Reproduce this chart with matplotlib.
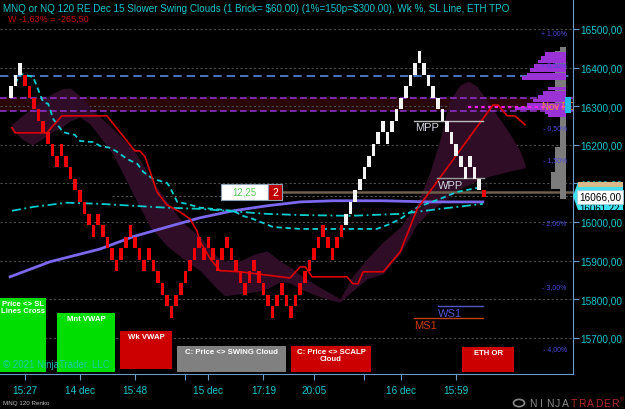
import matplotlib
matplotlib.use('Agg')
import matplotlib.pyplot as plt
from matplotlib.patches import Rectangle, Polygon, Circle

plt.rcParams['font.family'] = ['Liberation Sans', 'DejaVu Sans']

W, H = 625, 410
CYAN = '#12c6cc'
RED = '#cc0000'

title = r"MNQ or NQ 120 RE Dec 15 Slower Swing Clouds (1 Brick= \$60.00) (1%=150p=\$300.00), Wk %, SL Line, ETH TPO"
subtitle = "W -1,63% = -265,50"

# renko bricks (30 pt each): low of every brick and its colour
brick_size = 30
brick_lows = [16322, 16352, 16382, 16352, 16322, 16292, 16262, 16232, 16202, 16172, 16142,
              16172, 16142, 16112, 16082, 16052, 16022, 15992, 15962, 15992, 15962, 15932,
              15902, 15872, 15902, 15932, 15962, 15932, 15902, 15872, 15902, 15872, 15842,
              15812, 15782, 15752, 15782, 15812, 15842, 15872, 15902, 15932, 15902, 15932,
              15902, 15872, 15902, 15932, 15902, 15872, 15842, 15812, 15842, 15872, 15842,
              15812, 15782, 15752, 15782, 15812, 15782, 15752, 15782, 15812, 15842, 15872,
              15902, 15932, 15962, 15932, 15902, 15932, 15962,
              15992, 16022, 16052, 16082, 16112, 16142, 16172, 16202, 16232, 16202, 16232,
              16262, 16292, 16322, 16352, 16382, 16412, 16382, 16352, 16322, 16292, 16262,
              16232, 16202, 16172, 16142, 16112, 16142, 16112, 16082]
brick_colors = ['white'] * 3 + ['red'] * 70 + ['white'] * 30
last_open, last_close = 16082, 16066

# date axis
tick_pos = [3, 15, 27, 38, 43, 55, 66, 77, 85, 97]
tick_lbl = ['15:27', '14 dec', '15:48', '', '15 dec', '17:19', '20:05', '', '16 dec', '15:59']
price_ticks = [15700, 15800, 15900, 16000, 16100, 16200, 16300, 16400, 16500]

# SL line (red)
sl_x = [0.2, 0.9, 7.8, 11.1, 20.9, 27.0, 28.1, 29.2, 31.8, 34.0, 36.8, 39.0, 40.5, 41.2,
        43.4, 45.5, 49.9, 60.8, 63.0, 64.1, 65.6, 73.2, 74.5, 75.6, 76.7, 81.1, 84.8,
        88.5, 105.0, 106.1, 108.1, 109.8, 112.0]
sl_y = [16244, 16231, 16231, 16275, 16275, 16184, 16184, 16169, 16078, 16044, 16026, 16008,
        15977, 15949, 15905, 15874, 15871, 15855, 15884, 15884, 15858, 15858, 15840, 15840,
        15871, 15871, 15923, 16034, 16303, 16303, 16275, 16275, 16252]

# fast cyan (dashed)
fast_x = [0.9, 2.0, 4.8, 7.0, 8.1, 9.2, 11.3, 12.9, 13.9, 15.0, 17.9, 19.4, 21.6, 23.1, 25.3,
          27.5, 28.8, 30.9, 34.0, 34.6, 36.2, 38.3, 41.2, 48.4, 50.5, 52.7, 57.1, 63.0, 70.2,
          79.7, 82.6, 84.8, 88.7, 93.5, 97.2, 102.8]
fast_y = [16358, 16384, 16376, 16311, 16306, 16267, 16233, 16228, 16226, 16210, 16207, 16197,
          16192, 16182, 16163, 16151, 16130, 16112, 16101, 16091, 16052, 16047, 16037, 16029,
          16016, 16008, 15987, 15982, 15982, 15982, 15995, 16008, 16039, 16060, 16078, 16091]

# slow cyan (dash-dot)
slow_x = [0.2, 4.8, 12.2, 19.4, 26.6, 34.0, 41.2, 55.8, 63.0, 73.9, 84.8, 93.5, 102.8]
slow_y = [16029, 16039, 16050, 16047, 16042, 16037, 16034, 16021, 16018, 16016, 16021, 16034, 16047]

# slow purple average
ma_x = [-0.2, 8.5, 19.4, 26.6, 34.0, 41.2, 48.4, 55.8, 63.0, 70.2, 81.1, 91.3, 102.8]
ma_y = [15858, 15897, 15930, 15962, 15987, 16011, 16029, 16042, 16052, 16055, 16055, 16052, 16052]

# swing cloud
cloud_x = [0.2, 2.4, 4.6, 6.8, 8.9, 11.1, 12.9, 15.0, 17.2, 19.4, 22.2, 26.6, 30.3, 34.0,
           37.5, 41.2, 44.9, 46.6, 49.9, 53.2, 55.8, 58.6, 60.8, 63.0, 66.7, 70.2, 71.7,
           74.5, 77.6, 81.1, 84.8, 88.5, 91.3, 93.5, 95.6, 97.8, 99.6, 101.5, 103.7, 106.5,
           108.7, 110.9, 112.0]
cloud_hi = [16254, 16275, 16296, 16316, 16332, 16345, 16347, 16327, 16298, 16272, 16241, 16189,
            16117, 16052, 15998, 15962, 15910, 15899, 15899, 15918, 15925, 15899, 15884, 15863,
            15835, 15811, 15801, 15861, 15905, 15949, 15987, 16047, 16130, 16215, 16314, 16355,
            16365, 16352, 16314, 16267, 16228, 16184, 16148]
cloud_lo = [16241, 16215, 16200, 16215, 16233, 16246, 16262, 16272, 16254, 16220, 16176, 16073,
            15987, 15938, 15905, 15874, 15827, 15809, 15814, 15819, 15827, 15845, 15842, 15827,
            15809, 15796, 15793, 15822, 15853, 15866, 15918, 15995, 16029, 16047, 16065, 16086,
            16096, 16107, 16117, 16125, 16132, 16138, 16140]

# pivots / levels
mpp, wpp, ws1, ms1 = 16262, 16114, 15783, 15752
band_lo, band_hi = 16288, 16321
blue_level = 16377
nov_poc = 16298
entry_price = 16078
last_line = 16068

pct_lbl = ['+ 1,00%', '+ 0,50%', '- 0,50%', '- 1,50%', '- 2,00%', '- 3,00%', '- 4,00%']
pct_price = [16490, 16407, 16244, 16161, 15998, 15832, 15672]

# ETH TPO profile (right edge at bar 120.9), widths in bars
tpo_price = [16435, 16425, 16415, 16404, 16394, 16383, 16373,
             16345, 16334, 16324, 16314, 16303, 16294, 16285, 16275]
tpo_purple = [4.6, 5.4, 6.1, 7.0, 7.8, 8.5, 9.6,
              3.9, 5.0, 6.1, 7.2, 8.5, 11.1, 4.6, 3.9]
gray_lo = [16060, 16272, 16086, 16086, 16422]
gray_hi = [16453, 16443, 16195, 16130, 16440]
gray_w = [1.3, 2.4, 2.4, 3.3, 4.1]

alerts = [
    ('Price <> SL\nLines Cross', 0, 299, 46, 373, '#00dd00'),
    ('Mnt VWAP', 57, 314, 115, 373, '#00dd00'),
    ('Wk VWAP', 120, 332, 172, 370, '#cc0000'),
    ('C: Price <> SWING Cloud', 177, 347, 286, 373, '#808080'),
    ('C: Price <> SCALP\nCloud', 291, 347, 371, 373, '#cc0000'),
    ('ETH OR', 462, 348, 514, 373, '#cc0000'),
]


def fx(x):
    return x / W


def fy(y):
    return 1 - y / H


fig = plt.figure(figsize=(W / 100, H / 100), dpi=100, facecolor='black')
ax = fig.add_axes([0, 1 - 375 / H, 573 / W, 375 / H], facecolor='black')
ax.set_xlim(-2.4, 122.44)
ax.set_ylim(15606.2, 16577.7)

# background band + levels
ax.axhspan(band_lo, band_hi, color='#2a0707', lw=0, zorder=0.3)
for p in price_ticks:
    ax.axhline(p, color='#4d4d4d', lw=0.8, ls=(0, (2, 2)), zorder=0.5)
ax.plot([22, 122.5], [last_line, last_line], color='#555555', lw=0.8, ls=(0, (2, 2)), zorder=0.5)

ax.fill_between(cloud_x, cloud_lo, cloud_hi, color='#300d27', lw=0, zorder=1)

ax.axhline(band_hi, color='#8e2fc8', lw=1.2, ls=(0, (4, 2)), zorder=2)
ax.axhline(band_lo, color='#8e2fc8', lw=1.2, ls=(0, (4, 2)), zorder=2)
ax.axhline(blue_level, color='#5a8ae0', lw=1.2, ls=(0, (5, 3)), zorder=2)
ax.plot([59, 122.5], [entry_price, entry_price], color='#6e604c', lw=1.8, zorder=2)

# TPO profile
ax.barh(gray_lo, gray_w, height=[h - l for l, h in zip(gray_lo, gray_hi)], left=[120.9 - w for w in gray_w],
        align='edge', color='#7c7c7c', lw=0, zorder=2)
ax.barh(tpo_price, tpo_purple, height=8.5, left=[120.9 - w for w in tpo_purple],
        color='#9a32d6', lw=0, zorder=2.2)
ax.plot([99.6, 122.5], [nov_poc, nov_poc], color='#ff1eff', lw=1.6, ls=(0, (1.5, 1.5)), zorder=2.4)

# indicator lines
ax.plot(ma_x, ma_y, color='#7b68ee', lw=2, zorder=3)
ax.plot(slow_x, slow_y, color='#00cccc', lw=1.3, ls=(0, (5, 2, 1, 2)), zorder=3)
ax.plot(fast_x, fast_y, color='#00d0d0', lw=1.3, ls=(0, (3, 2)), zorder=3)
ax.plot(sl_x, sl_y, color='#dd0000', lw=1.2, zorder=3)

# pivot lines
ax.plot([87.8, 102.8], [mpp, mpp], color='#bdbdbd', lw=1, zorder=3)
ax.plot([92.8, 103], [wpp, wpp], color='#9a9a9a', lw=1, zorder=3)
ax.plot([93, 102.8], [ws1, ws1], color='#5555c8', lw=1, zorder=3)
ax.plot([87.8, 102.8], [ms1, ms1], color='#c04010', lw=1, zorder=3)
ax.text(88, mpp - 16, 'MPP', color='#d0d4e0', fontsize=8, va='center', zorder=6)
ax.text(93, wpp - 18, 'WPP', color='#d0d4e0', fontsize=8, va='center', zorder=6)
ax.text(93, ws1 - 18, 'WS1', color='#5050d0', fontsize=8, va='center', zorder=6)
ax.text(87.8, ms1 - 18, 'MS1', color='#cc3a10', fontsize=8, va='center', zorder=6)

# renko bricks
cmap = {'white': '#f4f4f4', 'red': '#f00000'}
ax.bar(range(len(brick_lows)), brick_size, bottom=brick_lows, width=0.78,
       color=[cmap[c] for c in brick_colors], lw=0, zorder=5)
ax.bar(len(brick_lows), last_close - last_open, bottom=last_open, width=0.78,
       color='#f00000', lw=0, zorder=5)

for t, p in zip(pct_lbl, pct_price):
    ax.text(121.1, p, t, color='#4a4ad8', fontsize=5, ha='right', va='center', zorder=6)
ax.text(115.7, nov_poc + 2, 'Nov POC', color='#e8962a', fontsize=7, va='center', zorder=6, clip_on=True)

# axes styling
for s in ['left', 'top']:
    ax.spines[s].set_visible(False)
for s in ['right', 'bottom']:
    ax.spines[s].set_color('#6a9ac8')
ax.yaxis.tick_right()
ax.set_yticks(price_ticks)
ax.set_yticklabels([f'{p},00' for p in price_ticks])
ax.set_xticks(tick_pos)
ax.set_xticklabels(tick_lbl)
ax.tick_params(axis='y', colors='#6a9ac8', labelcolor=CYAN, labelsize=7.2, length=4, pad=1)
ax.tick_params(axis='x', colors='#6a9ac8', labelcolor=CYAN, labelsize=7.2, length=4, pad=4)

# alert boxes
for txt, x0, y0, x1, y1, col in alerts:
    fig.add_artist(Rectangle((fx(x0), fy(y1)), (x1 - x0) / W, (y1 - y0) / H,
                             transform=fig.transFigure, color=col, lw=0, zorder=7))
    fig.text(fx((x0 + x1) / 2), fy(y0 + 2), txt, color='white', fontsize=5.6, fontweight='bold',
             ha='center', va='top', linespacing=1.1, zorder=8)

fig.text(fx(3), fy(365), '\u00a9 2021 NinjaTrader, LLC', color='#22c8c8', alpha=0.85, fontsize=7,
         va='center', zorder=9)

# position box
fig.add_artist(Rectangle((fx(221), fy(201)), 47 / W, 16 / H, transform=fig.transFigure,
                         facecolor='white', edgecolor='#8ca0b4', lw=0.8, zorder=7))
fig.add_artist(Rectangle((fx(268), fy(201)), 14 / W, 16 / H, transform=fig.transFigure,
                         facecolor='#c00000', edgecolor='#8ca0b4', lw=0.8, zorder=7))
fig.text(fx(244.5), fy(193), '12,25', color='#5ccc5c', fontsize=7, ha='center', va='center', zorder=8)
fig.text(fx(275), fy(193), '2', color='white', fontsize=7.5, ha='center', va='center', zorder=8)

# right axis price markers
fig.add_artist(Rectangle((fx(565), fy(114)), 6 / W, 16 / H, transform=fig.transFigure,
                         color='#22b8e8', lw=0, zorder=7))
fig.add_artist(Polygon([(fx(573), fy(197)), (fx(578), fy(183)), (fx(623), fy(183)),
                        (fx(623), fy(211)), (fx(578), fy(211))], closed=True,
                       transform=fig.transFigure, color='#3ee0f0', lw=0, zorder=7))
fig.add_artist(Rectangle((fx(578), fy(188)), 45 / W, 5 / H, transform=fig.transFigure,
                         color='#d8b98c', lw=0, zorder=7.5))
fig.text(fx(600), fy(209), '16061,22', color='black', fontsize=7, ha='center', va='center', zorder=7.6)
fig.add_artist(Rectangle((fx(577), fy(205)), 46 / W, 14 / H, transform=fig.transFigure,
                         facecolor='white', edgecolor='#a0d0e0', lw=0.6, zorder=8))
fig.text(fx(600), fy(198), '16066,00', color='black', fontsize=7.2, ha='center', va='center', zorder=9)

# headers
fig.text(fx(3), fy(9), title, color=CYAN, fontsize=7.1, va='center')
fig.text(fx(8), fy(19), subtitle, color='#d00000', fontsize=6.5, va='center')
fig.text(fx(3), fy(404), 'MNQ 120 Renko', color='#bbbbbb', fontsize=4.5, va='center')

# logo
fig.add_artist(Circle((fx(519), fy(404)), 5.5 / W, transform=fig.transFigure,
                      facecolor='none', edgecolor='#888888', lw=1.2))
for k, ch in enumerate('NINJATRADER'):
    fig.text(fx(533 + k * 8.2), fy(404), ch, color='#8a8a8a' if k < 5 else '#b0282a',
             fontsize=7.5, ha='center', va='center')
fig.text(fx(620), fy(400), '\u00ae', color='#b0282a', fontsize=4, va='center')

fig.savefig('out.png', dpi=100, facecolor='black')
